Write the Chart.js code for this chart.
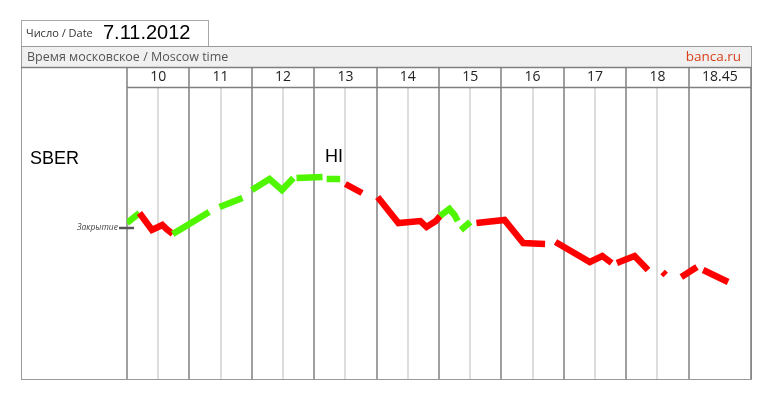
<!DOCTYPE html>
<html>
<head>
<meta charset="utf-8">
<script src="https://cdn.jsdelivr.net/npm/chart.js@4/dist/chart.umd.min.js"></script>
<style>
  html, body { margin: 0; padding: 0; background: #fff; }
  #wrap { width: 775px; height: 406px; }
</style>
</head>
<body>
<div id="wrap"><canvas id="chart" width="775" height="406"></canvas></div>
<script>
// Подписи колонок (часы)
const hourLabels = ['10', '11', '12', '13', '14', '15', '16', '17', '18', '18.45'];

// Время в минутах от 10:00 (null в цене = разрыв линии)
const times = [0, 12, 24, 34, 38, 44, 79, 84, 89, 111, 115, 120, 137, 149, 160, 162, 163, 188, 190, 192,
  205, 207, 210, 226, 233, 241, 261, 282, 288, 297, 301, 310, 315, 318, 319, 321, 330, 333, 336, 363,
  381, 402, 407, 412, 445, 457, 466, 468, 471, 488, 501, 508, 515, 518, 525, 533, 548, 551, 554, 578];

// Цена SBER
const prices = [92.56, 92.66, 92.49, 92.54, 92.50, 92.45, 92.67, null, 92.72, 92.81, null, 92.89, 93.00, 92.89, 93.01, null, 93.01, 93.02, null, 93.00,
  93.00, null, 92.95, 92.86, null, 92.82, 92.56, 92.58, 92.52, 92.58, 92.63, 92.70, 92.64, 92.58, null, 92.49, 92.57, null, 92.56, 92.59,
  92.36, 92.35, null, 92.37, 92.17, 92.23, 92.16, null, 92.16, 92.23, 92.09, null, 92.07, 92.04, null, 92.02, 92.12, null, 92.09, 91.97];

// Цвет отрезка, начинающегося в точке i: g - рост, r - падение
const segColors = ['g', 'r', 'r', 'r', 'r', 'g', 'g', 'g', 'g', 'g', 'g', 'g', 'g', 'g', 'g', 'g', 'g', 'g', 'g', 'g',
  'g', 'r', 'r', 'r', 'r', 'r', 'r', 'r', 'r', 'r', 'g', 'g', 'g', 'g', 'g', 'g', 'g', 'r', 'r', 'r',
  'r', 'r', 'r', 'r', 'r', 'r', 'r', 'r', 'r', 'r', 'r', 'r', 'r', 'r', 'r', 'r', 'r', 'r', 'r', 'r'];

const closePrice = 92.51;

const GREEN = '#50f500';
const RED = '#ff0000';

// Рамка, сетка и подписи
const framePlugin = {
    id: 'frame',
    beforeDatasetsDraw(chart) {
        const c = chart.ctx;
        const x = chart.scales.x;
        const area = chart.chartArea;
        const rowTop = 67;
        c.save();

        // шапка с датой
        c.strokeStyle = '#a8a8a8';
        c.lineWidth = 1;
        c.strokeRect(21.5, 20.5, 187, 26);

        // серая полоса
        c.fillStyle = '#f0f0f0';
        c.fillRect(21, 46, 730, 21);

        // внешняя рамка
        c.strokeStyle = '#9a9a9a';
        c.strokeRect(21.5, 46.5, 730, 333);

        // полусуточные линии
        c.strokeStyle = '#d2d2d2';
        c.lineWidth = 1.5;
        for (let m = 30; m < 570; m += 60) {
            const px = Math.round(x.getPixelForValue(m));
            c.beginPath();
            c.moveTo(px, area.top);
            c.lineTo(px, area.bottom);
            c.stroke();
        }

        // часовые линии
        c.strokeStyle = '#7f7f7f';
        c.lineWidth = 1.5;
        for (let m = 0; m <= 600; m += 60) {
            const px = Math.round(x.getPixelForValue(m));
            c.beginPath();
            c.moveTo(px, rowTop);
            c.lineTo(px, area.bottom);
            c.stroke();
        }
        c.beginPath();
        c.moveTo(21, rowTop + 0.5);
        c.lineTo(751, rowTop + 0.5);
        c.moveTo(x.getPixelForValue(0), area.top - 0.5);
        c.lineTo(751, area.top - 0.5);
        c.stroke();

        // подписи часов
        c.fillStyle = '#222';
        c.font = '14px "Open Sans", sans-serif';
        c.textAlign = 'center';
        c.textBaseline = 'middle';
        hourLabels.forEach((label, i) => {
            c.fillText(label, x.getPixelForValue(i * 60 + 30), (rowTop + area.top) / 2);
        });

        // тексты шапки
        c.textAlign = 'left';
        c.fillStyle = '#333';
        c.font = '11px "Open Sans", sans-serif';
        c.fillText('Число / Date', 26, 34);
        c.fillStyle = '#000';
        c.font = '20px "Liberation Sans", Arial, sans-serif';
        c.fillText('7.11.2012', 103, 33);
        c.fillStyle = '#555';
        c.font = '12.5px "Open Sans", sans-serif';
        c.fillText('Время московское / Moscow time', 27, 57);
        c.textAlign = 'right';
        c.fillStyle = '#d9401a';
        c.font = '13.5px "Open Sans", sans-serif';
        c.fillText('banca.ru', 741, 57);

        // тикер и HI
        c.textAlign = 'left';
        c.fillStyle = '#000';
        c.font = '18px "Liberation Sans", Arial, sans-serif';
        c.fillText('SBER', 30, 159);
        c.fillText('HI', 325, 157);

        // уровень закрытия
        const cy = Math.round(chart.scales.y.getPixelForValue(closePrice));
        c.strokeStyle = '#555';
        c.lineWidth = 2.5;
        c.beginPath();
        c.moveTo(119, cy);
        c.lineTo(134, cy);
        c.stroke();
        c.textAlign = 'right';
        c.fillStyle = '#444';
        c.font = 'italic 8.5px "Open Sans", sans-serif';
        c.fillText('Закрытие', 118, cy);
        c.restore();
    }
};

function initChart() {
    const ctx = document.getElementById('chart').getContext('2d');
    new Chart(ctx, {
        type: 'line',
        data: {
            datasets: [{
                data: times.map((t, i) => ({ x: t, y: prices[i] })),
                borderWidth: 6.5,
                borderCapStyle: 'butt',
                borderJoinStyle: 'miter',
                pointRadius: 0,
                tension: 0,
                spanGaps: false,
                segment: {
                    borderColor: c => segColors[c.p0DataIndex] === 'g' ? GREEN : RED
                }
            }]
        },
        options: {
            responsive: false,
            animation: false,
            layout: { padding: { left: 127, right: 24, top: 88, bottom: 27 } },
            plugins: { legend: { display: false }, tooltip: { enabled: false } },
            scales: {
                x: { type: 'linear', min: 0, max: 600, display: false },
                y: { type: 'linear', min: 91, max: 93.91, display: false }
            }
        },
        plugins: [framePlugin]
    });
}

document.addEventListener('DOMContentLoaded', initChart);
</script>
</body>
</html>
